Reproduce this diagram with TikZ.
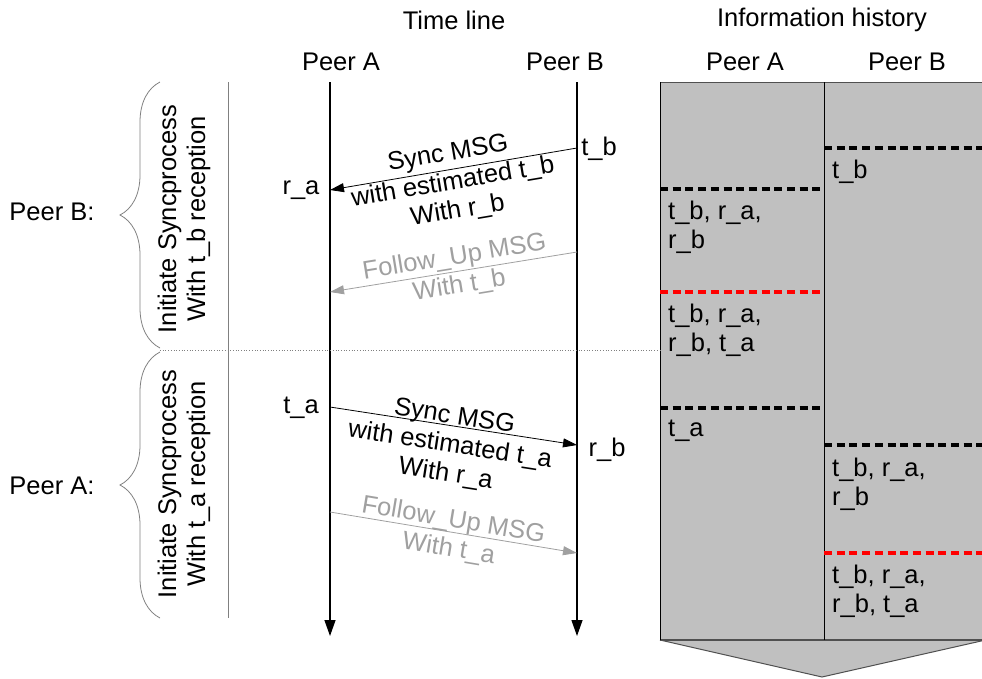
\documentclass[tikz,border=0pt]{standalone}
\usepackage{fontspec}
\setmainfont{Liberation Sans}
\usetikzlibrary{arrows.meta,decorations.pathreplacing}
\definecolor{histgray}{HTML}{C0C0C0}
\definecolor{msggray}{HTML}{A0A0A0}
\definecolor{bracegray}{HTML}{808080}
\definecolor{edgegray}{HTML}{505050}
\begin{document}
\begin{tikzpicture}[x=1pt,y=-1pt,
  font=\fontsize{25.5}{29}\selectfont,
  lbl/.style={inner sep=0pt},
  info/.style={anchor=north west,align=left,inner sep=0pt},
  msgtext/.style={align=center,inner sep=0pt},
  msg/.style={line width=0.8pt,-{Triangle[length=14pt,width=9pt]}},
  fup/.style={msg,draw=msggray},
  lifeline/.style={line width=1.3pt,-{Triangle[length=16pt,width=11pt]}},
  histdash/.style={line width=3.3pt,dash pattern=on 8pt off 4.7pt},
  bracedec/.style={draw=bracegray,line width=0.8pt,decorate,
                   decoration={brace,amplitude=40pt,aspect=0.5}}]
\useasboundingbox (0,0) rectangle (982,678);

% ---- information history panel ----
\fill[histgray] (660,82) rectangle (990,640);
\fill[histgray,draw=edgegray,line width=1pt] (660,640) -- (822,677) -- (990,639);
\draw[edgegray,line width=1pt] (660,82) -- (990,82);
\draw[edgegray,line width=2pt] (660,640) -- (990,640);
\draw[black,line width=1pt] (660,82) -- (660,640);
\draw[black,line width=1pt] (824,82) -- (824,640);

\node[lbl] (ihtitle) at (822,20) {Information history};
\node[lbl] (ihA) at (745,62) {Peer A};
\node[lbl] (ihB) at (907,62) {Peer B};

% history entries: a dashed marker and the values known from then on
\draw[histdash,black] (824,148) -- (990,148);
\node[info] (hB1) at (832,160) {t\_b};
\draw[histdash,black] (660,189) -- (824,189);
\node[info] (hA1) at (668,201) {t\_b, r\_a,\\r\_b};
\draw[histdash,red] (660,292) -- (824,292);
\node[info] (hA2) at (668,304) {t\_b, r\_a,\\r\_b, t\_a};
\draw[histdash,black] (660,408) -- (824,408);
\node[info] (hA3) at (668,420) {t\_a};
\draw[histdash,black] (824,445) -- (990,445);
\node[info] (hB2) at (832,458) {t\_b, r\_a,\\r\_b};
\draw[histdash,red] (824,553) -- (990,553);
\node[info] (hB3) at (832,565) {t\_b, r\_a,\\r\_b, t\_a};

% ---- time line ----
\node[lbl] (tltitle) at (454,20) {Time line};
\node[lbl] (tlA) at (341,62) {Peer A};
\node[lbl] (tlB) at (565,62) {Peer B};

\coordinate (Atop) at (330,82);
\coordinate (Abot) at (330,636);
\coordinate (Btop) at (577,82);
\coordinate (Bbot) at (577,636);
\draw[lifeline] (Atop) -- (Abot);
\draw[lifeline] (Btop) -- (Bbot);

% event points on the life lines
\coordinate (tb) at (577,148);
\coordinate (ra) at (330,190);
\coordinate (fbs) at (577,252);
\coordinate (fbe) at (330,292);
\coordinate (ta) at (330,407);
\coordinate (rb) at (577,445);
\coordinate (fas) at (330,512);
\coordinate (fae) at (577,553);

\node[lbl] (ltb) at (599,149) {t\_b};
\node[lbl] (lra) at (301,190) {r\_a};
\node[lbl] (lta) at (301,408) {t\_a};
\node[lbl] (lrb) at (607,450) {r\_b};

\draw[msg] (tb) -- (ra);
\node[msgtext,rotate=9.65] (m1) at (453,183) {Sync MSG\\with estimated t\_b\\With r\_b};
\draw[fup] (fbs) -- (fbe);
\node[msgtext,rotate=9.3,text=msggray] (m2) at (457,272) {Follow\_Up MSG\\With t\_b};
\draw[msg] (ta) -- (rb);
\node[msgtext,rotate=-8.8] (m3) at (450,446) {Sync MSG\\with estimated t\_a\\With r\_a};
\draw[fup] (fas) -- (fae);
\node[msgtext,rotate=-9.5,text=msggray] (m4) at (451,535) {Follow\_Up MSG\\With t\_a};

% ---- phases on the left ----
\coordinate (sepL) at (160,350);
\coordinate (sepR) at (660,350);
\draw[bracegray,line width=0.7pt,dotted] (sepL) -- (sepR);
\coordinate (gTop) at (228,82);
\coordinate (gBot) at (228,618);
\draw[bracegray,line width=0.8pt] (gTop) -- (gBot);

\coordinate (b1top) at (160,82);
\coordinate (b1bot) at (160,348);
\coordinate (b2top) at (160,352);
\coordinate (b2bot) at (160,618);
\draw[bracedec] (b1bot) -- (b1top);
\draw[bracedec] (b2bot) -- (b2top);

\node[lbl] (pB) at (52,212) {Peer B:};
\node[lbl] (pA) at (52,486) {Peer A:};
\node[msgtext,rotate=90] (ph1) at (184,219) {Initiate Syncprocess\\With t\_b reception};
\node[msgtext,rotate=90] (ph2) at (184,484) {Initiate Syncprocess\\With t\_a reception};
\end{tikzpicture}
\end{document}
